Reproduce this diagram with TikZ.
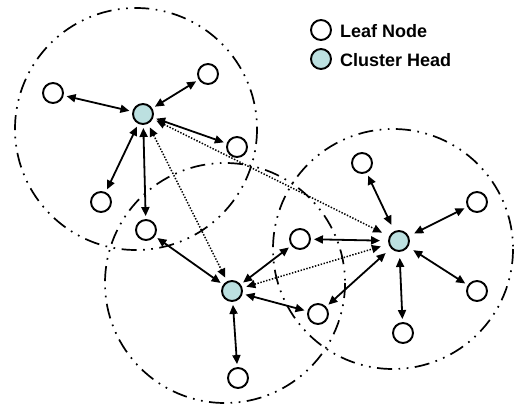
\documentclass[tikz,border=0pt]{standalone}
\usepackage{fontspec}
\setmainfont{Liberation Sans}
\usetikzlibrary{arrows.meta}
\definecolor{headfill}{RGB}{188,224,224}
\tikzset{
  leaf/.style={circle,draw,line width=1.9pt,minimum size=20pt,inner sep=0pt},
  head/.style={leaf,fill=headfill},
  cover/.style={line width=1.7pt,dash pattern=on 15pt off 6.5pt on 1.7pt off 6.5pt on 1.7pt off 6.5pt},
  link/.style={line width=1.8pt,{Triangle[length=9pt,width=8pt]}-{Triangle[length=9pt,width=8pt]},shorten <=3pt,shorten >=3pt},
  hlink/.style={line width=1.5pt,dash pattern=on 1.4pt off 1.6pt,{Triangle[length=9pt,width=8pt]}-{Triangle[length=9pt,width=8pt]},shorten <=4pt,shorten >=4pt},
  legend/.style={font=\fontsize{18}{21}\selectfont\bfseries,anchor=west,inner sep=0pt}
}
\begin{document}
\begin{tikzpicture}[x=1pt,y=-1pt]
\useasboundingbox (0,0) rectangle (514,407);
% coverage ranges
\draw[cover] (136,129) circle[radius=121];
\draw[cover] (225,283) circle[radius=120];
\draw[cover] (393,249) circle[radius=120];
% cluster heads
\node[head] (ch1) at (143,114) {};
\node[head] (ch2) at (232,291) {};
\node[head] (ch3) at (399,241) {};
% leaves
\node[leaf] (l1a) at (53,93) {};
\node[leaf] (l1b) at (208,74) {};
\node[leaf] (l1c) at (237,147) {};
\node[leaf] (l1d) at (101,202) {};
\node[leaf] (l1e) at (146,230) {};
\node[leaf] (l2b) at (238,378) {};
\node[leaf] (l2c) at (300,239) {};
\node[leaf] (l2d) at (318,314) {};
\node[leaf] (l3a) at (362,163) {};
\node[leaf] (l3b) at (477,202) {};
\node[leaf] (l3c) at (477,291) {};
\node[leaf] (l3d) at (403,333) {};
% head links
\draw[hlink] (ch1) -- (ch2);
\draw[hlink,shorten >=8pt] (ch1) -- (ch3);
\draw[hlink,shorten >=8pt] (ch2) -- (ch3);
% cluster 1
\draw[link] (ch1) -- (l1a);
\draw[link] (ch1) -- (l1b);
\draw[link] (ch1) -- (l1c);
\draw[link] (ch1) -- (l1d);
\draw[link] (ch1) -- (l1e);
% cluster 2
\draw[link] (ch2) -- (l1e);
\draw[link] (ch2) -- (l2b);
\draw[link] (ch2) -- (l2c);
\draw[link] (ch2) -- (l2d);
% cluster 3
\draw[link,shorten <=7pt] (ch3) -- (l3a);
\draw[link,shorten <=6pt] (ch3) -- (l3b);
\draw[link,shorten <=6pt] (ch3) -- (l3c);
\draw[link,shorten <=6pt] (ch3) -- (l3d);
\draw[link,shorten <=8pt] (ch3) -- (l2c);
\draw[link,shorten <=7pt] (ch3) -- (l2d);
% legend
\node[leaf] (kleaf) at (321,30) {};
\node[head] (khead) at (321,59) {};
\node[legend] (tleaf) at (340,31) {Leaf Node};
\node[legend] (thead) at (340,60) {Cluster Head};
\end{tikzpicture}
\end{document}
